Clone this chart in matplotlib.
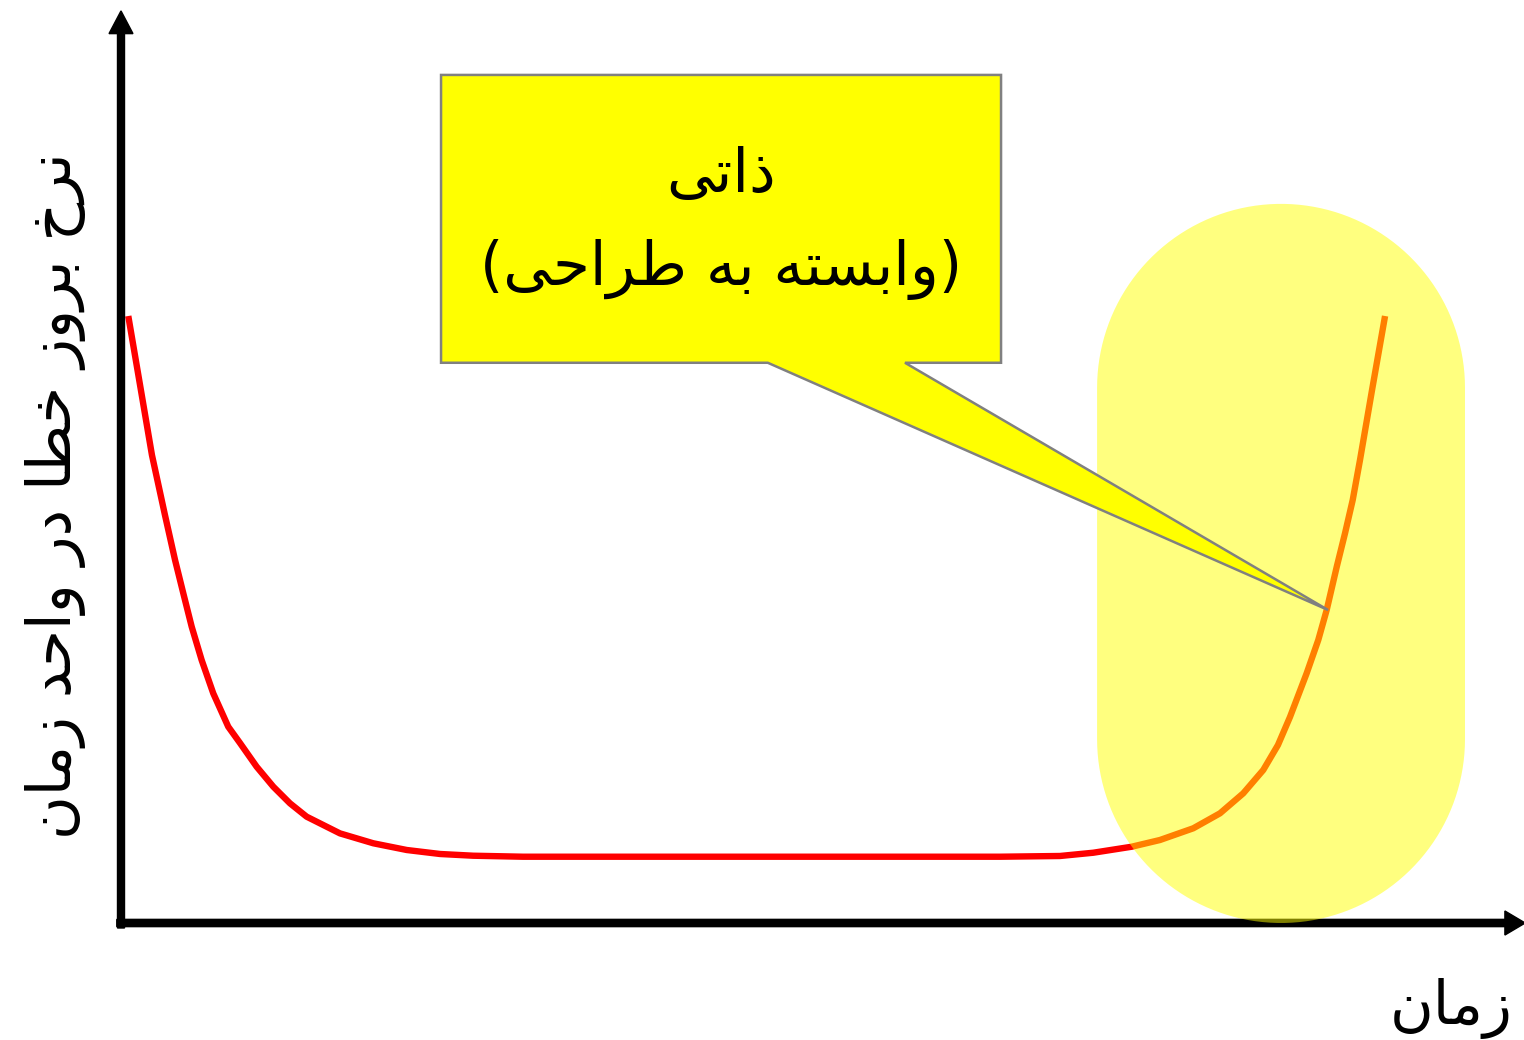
import numpy as np
import matplotlib
matplotlib.use('Agg')
import matplotlib.pyplot as plt

# bathtub curve (time, failure rate), arbitrary 0-100 units
time_left = [0.52, 1.36, 2.21, 3.14, 3.86, 4.45, 5.05, 5.76, 6.59, 7.66, 8.5,
             9.69, 10.88, 12.07, 13.26, 15.64, 18.02, 20.41, 22.79, 25.16, 28.71]
rate_left = [66.85, 59.25, 51.54, 44.93, 39.98, 36.31, 32.63, 28.96, 25.29, 21.62,
             19.82, 17.21, 15.01, 13.18, 11.71, 9.87, 8.78, 8.04, 7.60, 7.41, 7.30]
time_right = [62.79, 67.07, 69.45, 72.19, 74.21, 76.59, 78.5, 80.16, 81.59, 82.64,
              83.5, 84.69, 85.52, 86.12, 86.84, 87.43, 87.98, 88.5, 89.36, 90.29]
rate_right = [7.30, 7.38, 7.74, 8.40, 9.14, 10.43, 12.08, 14.28, 16.85, 19.60,
              22.69, 27.50, 31.17, 34.47, 39.24, 42.92, 46.59, 50.99, 58.70, 66.85]
tip_idx = 13  # point the callout refers to

callout_title = 'ذاتی'
callout_sub = '(وابسته به طراحی)'
y_label = 'نرخ بروز خطا در واحد زمان'
x_label = 'زمان'

# isolated, final, initial, medial presentation forms
FORMS = {
    'ا': ('\uFE8D', '\uFE8E', None, None),
    'ب': ('\uFE8F', '\uFE90', '\uFE91', '\uFE92'),
    'ت': ('\uFE95', '\uFE96', '\uFE97', '\uFE98'),
    'ح': ('\uFEA1', '\uFEA2', '\uFEA3', '\uFEA4'),
    'خ': ('\uFEA5', '\uFEA6', '\uFEA7', '\uFEA8'),
    'د': ('\uFEA9', '\uFEAA', None, None),
    'ذ': ('\uFEAB', '\uFEAC', None, None),
    'ر': ('\uFEAD', '\uFEAE', None, None),
    'ز': ('\uFEAF', '\uFEB0', None, None),
    'س': ('\uFEB1', '\uFEB2', '\uFEB3', '\uFEB4'),
    'ط': ('\uFEC1', '\uFEC2', '\uFEC3', '\uFEC4'),
    'م': ('\uFEE1', '\uFEE2', '\uFEE3', '\uFEE4'),
    'ن': ('\uFEE5', '\uFEE6', '\uFEE7', '\uFEE8'),
    'ه': ('\uFEE9', '\uFEEA', '\uFEEB', '\uFEEC'),
    'و': ('\uFEED', '\uFEEE', None, None),
    'ی': ('\uFBFC', '\uFBFD', '\uFBFE', '\uFBFF'),
}
RIGHT_ONLY = set('ادذرزو')


def shape(text):
    # minimal persian shaping + right-to-left ordering for matplotlib
    out = []
    for i, c in enumerate(text):
        if c not in FORMS:
            out.append(c)
            continue
        prev = text[i - 1] if i > 0 else ''
        nxt = text[i + 1] if i + 1 < len(text) else ''
        jp = prev in FORMS and prev not in RIGHT_ONLY
        jn = c not in RIGHT_ONLY and nxt in FORMS
        iso, fin, ini, med = FORMS[c]
        if jp and jn:
            out.append(med)
        elif jp:
            out.append(fin)
        elif jn:
            out.append(ini)
        else:
            out.append(iso)
    vis = ''.join(reversed(out))
    return vis.translate(str.maketrans('()', ')('))


def main():
    plt.rcParams['font.family'] = ['DejaVu Sans']
    fig = plt.figure(figsize=(15.24, 10.4), dpi=100)
    ax = fig.add_axes([121 / 1524, 117 / 1040, 1400 / 1524, 908 / 1040])
    ax.set_xlim(0, 100)
    ax.set_ylim(0, 100)
    ax.axis('off')

    # curve
    t = time_left + time_right
    r = rate_left + rate_right
    ax.plot(t, r, color='#ff0000', lw=4.6, zorder=2, solid_capstyle='butt',
            solid_joinstyle='round')

    # axes with arrow heads
    ax.arrow(0, -0.55, 0, 101.0, width=0.5, head_width=1.71, head_length=2.5,
             length_includes_head=True, color='black', clip_on=False, zorder=3)
    ax.arrow(-0.3, 0, 100.6, 0, width=0.8, head_width=2.65, head_length=1.45,
             length_includes_head=True, color='black', clip_on=False, zorder=3)

    # highlighted wear-out region (stadium shape)
    cx, rx, ry = 82.86, 13.14, 20.26
    y_bot, y_top = 0.0, 79.2
    th_top = np.linspace(0, np.pi, 80)
    th_bot = np.linspace(np.pi, 2 * np.pi, 80)
    sx = np.concatenate([cx + rx * np.cos(th_top), cx + rx * np.cos(th_bot)])
    sy = np.concatenate([y_top - ry + ry * np.sin(th_top), y_bot + ry + ry * np.sin(th_bot)])
    ax.fill(sx, sy, color='#ffff00', alpha=0.5, lw=0, zorder=4, clip_on=False)

    # callout box pointing at the curve
    tip = (time_right[tip_idx], rate_right[tip_idx])
    bx = [22.86, 62.86, 62.86, 56.0, tip[0] + 0.1, 46.2, 22.86]
    by = [93.4, 93.4, 61.7, 61.7, tip[1], 61.7, 61.7]
    ax.fill(bx, by, facecolor='#ffff00', edgecolor='#808080', lw=1.8,
            joinstyle='miter', zorder=5, clip_on=False)
    ax.text(42.86, 82.3, shape(callout_title), fontsize=43, ha='center',
            va='center', zorder=6)
    ax.text(42.86, 72.0, shape(callout_sub), fontsize=43, ha='center',
            va='center', zorder=6)

    ax.text(-0.047, 0.471, shape(y_label), fontsize=43, rotation=90,
            ha='center', va='center', transform=ax.transAxes)
    ax.text(0.994, -0.094, shape(x_label), fontsize=43, ha='right',
            va='center', transform=ax.transAxes)

    plt.savefig('out.png', dpi=100)


if __name__ == "__main__":
    main()
